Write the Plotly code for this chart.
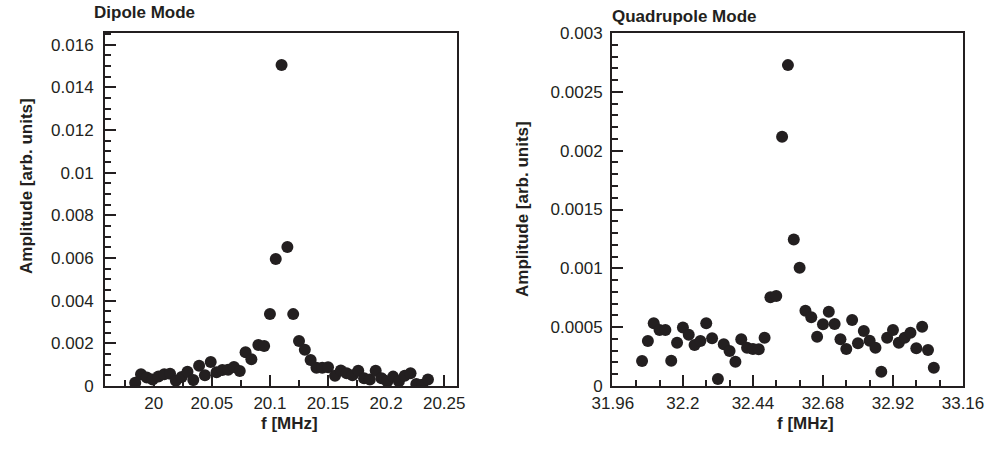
import plotly.graph_objects as go

# ---------------- data ----------------
dipole_f = [19.984, 19.989, 19.994, 19.999, 20.004, 20.009, 20.014, 20.019, 20.024, 20.029,
            20.034, 20.039, 20.044, 20.049, 20.054, 20.059, 20.064, 20.069, 20.074, 20.079,
            20.084, 20.090, 20.095, 20.100, 20.105, 20.110, 20.115, 20.120, 20.125, 20.130,
            20.135, 20.140, 20.145, 20.150, 20.156, 20.161, 20.166, 20.171, 20.176, 20.181,
            20.186, 20.191, 20.196, 20.201, 20.206, 20.211, 20.216, 20.221, 20.226, 20.231,
            20.236]
dipole_amp = [0.00015, 0.00055, 0.00040, 0.00030, 0.00045, 0.00055, 0.00057, 0.00025, 0.00042, 0.00067,
              0.00028, 0.00095, 0.00050, 0.00112, 0.00064, 0.00075, 0.00076, 0.00089, 0.00070, 0.00158,
              0.00125, 0.00192, 0.00188, 0.00338, 0.00595, 0.01505, 0.00652, 0.00337, 0.00211, 0.00170,
              0.00122, 0.00086, 0.00086, 0.00088, 0.00048, 0.00073, 0.00060, 0.00050, 0.00072, 0.00036,
              0.00031, 0.00072, 0.00036, 0.00021, 0.00044, 0.00022, 0.00048, 0.00060, 0.00009, 0.00006,
              0.00030]

quad_f = [32.06, 32.08, 32.10, 32.12, 32.14, 32.16, 32.18, 32.20, 32.22, 32.24,
          32.26, 32.28, 32.30, 32.32, 32.34, 32.36, 32.38, 32.40, 32.42, 32.44,
          32.46, 32.48, 32.50, 32.52, 32.54, 32.56, 32.58, 32.60, 32.62, 32.64,
          32.66, 32.68, 32.70, 32.72, 32.74, 32.76, 32.78, 32.80, 32.82, 32.84,
          32.86, 32.88, 32.90, 32.92, 32.94, 32.96, 32.98, 33.00, 33.02, 33.04,
          33.06]
quad_amp = [0.000212, 0.000382, 0.000533, 0.000476, 0.000476, 0.000215, 0.000368, 0.000498, 0.000435, 0.000348,
            0.000382, 0.000533, 0.000405, 0.000059, 0.000354, 0.000297, 0.000207, 0.000397, 0.000326, 0.000314,
            0.000312, 0.000411, 0.000755, 0.000765, 0.002118, 0.002727, 0.001246, 0.001005, 0.000640, 0.000584,
            0.000419, 0.000524, 0.000631, 0.000527, 0.000397, 0.000314, 0.000561, 0.000363, 0.000467, 0.000385,
            0.000326, 0.000122, 0.000411, 0.000476, 0.000368, 0.000411, 0.000453, 0.000320, 0.000504, 0.000306,
            0.000156]

dip_xticks = [20.0, 20.05, 20.1, 20.15, 20.2, 20.25]
dip_xlabels = ["20", "20.05", "20.1", "20.15", "20.2", "20.25"]
dip_yticks = [0, 0.002, 0.004, 0.006, 0.008, 0.01, 0.012, 0.014, 0.016]
dip_ylabels = ["0", "0.002", "0.004", "0.006", "0.008", "0.01", "0.012", "0.014", "0.016"]
quad_xticks = [31.96, 32.2, 32.44, 32.68, 32.92, 33.16]
quad_xlabels = ["31.96", "32.2", "32.44", "32.68", "32.92", "33.16"]
quad_yticks = [0, 0.0005, 0.001, 0.0015, 0.002, 0.0025, 0.003]
quad_ylabels = ["0", "0.0005", "0.001", "0.0015", "0.002", "0.0025", "0.003"]

titles = ["Dipole Mode", "Quadrupole Mode"]
xlabel = "f [MHz]"
ylabel = "Amplitude [arb. units]"

# ---------------- style ----------------
INK = "#231f20"
FONT = "Liberation Sans, Arial, Helvetica, sans-serif"
W, H = 999, 451

def px_x(p):
    return p / W

def px_y(p):
    return 1 - p / H

fig = go.Figure()
mk = dict(size=12, color=INK, symbol="circle", line=dict(width=0))
fig.add_trace(go.Scatter(x=dipole_f, y=dipole_amp, mode="markers", marker=mk,
                         xaxis="x", yaxis="y", showlegend=False))
fig.add_trace(go.Scatter(x=quad_f, y=quad_amp, mode="markers", marker=mk,
                         xaxis="x2", yaxis="y2", showlegend=False))

def axis_common():
    return dict(showline=True, linecolor=INK, linewidth=2, mirror=True,
                showgrid=False, zeroline=False, ticks="inside", ticklen=11,
                tickwidth=2, tickcolor=INK, automargin=False,
                tickfont=dict(family=FONT, size=17, color=INK))

xa = axis_common()
xa.update(domain=[px_x(105), px_x(457)], range=[19.958, 20.261], anchor="y",
          tickmode="array", tickvals=dip_xticks, ticktext=dip_xlabels,
          minor=dict(dtick=0.025, tick0=20.0, ticks="inside", ticklen=6,
                     tickwidth=2, tickcolor=INK, showgrid=False),
          ticklabelstandoff=1)
ya = axis_common()
ya.update(domain=[px_y(386), px_y(33)], range=[0, 0.01655], anchor="x",
          tickmode="array", tickvals=dip_yticks, ticktext=dip_ylabels,
          minor=dict(dtick=0.0005, tick0=0, ticks="inside", ticklen=6,
                     tickwidth=2, tickcolor=INK, showgrid=False),
          ticklabelstandoff=6)
xa2 = axis_common()
xa2.update(domain=[px_x(612), px_x(963)], range=[31.957, 33.16], anchor="y2",
           tickmode="array", tickvals=quad_xticks, ticktext=quad_xlabels,
           minor=dict(dtick=0.08, tick0=31.96, ticks="inside", ticklen=6,
                      tickwidth=2, tickcolor=INK, showgrid=False),
           ticklabelstandoff=1)
ya2 = axis_common()
ya2.update(domain=[px_y(386), px_y(33)], range=[0, 0.003], anchor="x2",
           tickmode="array", tickvals=quad_yticks, ticktext=quad_ylabels,
           minor=dict(dtick=0.0001, tick0=0, ticks="inside", ticklen=6,
                      tickwidth=2, tickcolor=INK, showgrid=False),
           ticklabelstandoff=4)

bold = dict(family=FONT, size=17, color=INK)
annotations = [
    dict(text="<b>%s</b>" % titles[0], x=px_x(92), y=px_y(12), xref="paper", yref="paper",
         xanchor="left", yanchor="middle", showarrow=False, font=bold),
    dict(text="<b>%s</b>" % titles[1], x=px_x(610), y=px_y(16), xref="paper", yref="paper",
         xanchor="left", yanchor="middle", showarrow=False, font=bold),
    dict(text="<b>%s</b>" % xlabel, x=px_x(289), y=px_y(423), xref="paper", yref="paper",
         xanchor="center", yanchor="middle", showarrow=False, font=bold),
    dict(text="<b>%s</b>" % xlabel, x=px_x(805), y=px_y(423), xref="paper", yref="paper",
         xanchor="center", yanchor="middle", showarrow=False, font=bold),
    dict(text="<b>%s</b>" % ylabel, x=px_x(27), y=px_y(186), xref="paper", yref="paper",
         xanchor="center", yanchor="middle", textangle=-90, showarrow=False, font=bold),
    dict(text="<b>%s</b>" % ylabel, x=px_x(523), y=px_y(209), xref="paper", yref="paper",
         xanchor="center", yanchor="middle", textangle=-90, showarrow=False, font=bold),
]

fig.update_layout(width=W, height=H, margin=dict(l=0, r=0, t=0, b=0),
                  paper_bgcolor="white", plot_bgcolor="white",
                  xaxis=xa, yaxis=ya, xaxis2=xa2, yaxis2=ya2,
                  annotations=annotations, font=dict(family=FONT, color=INK))

fig.write_html("out.html", config={"displayModeBar": False},
               post_script="document.body.style.margin='0px';document.body.style.padding='0px';")
